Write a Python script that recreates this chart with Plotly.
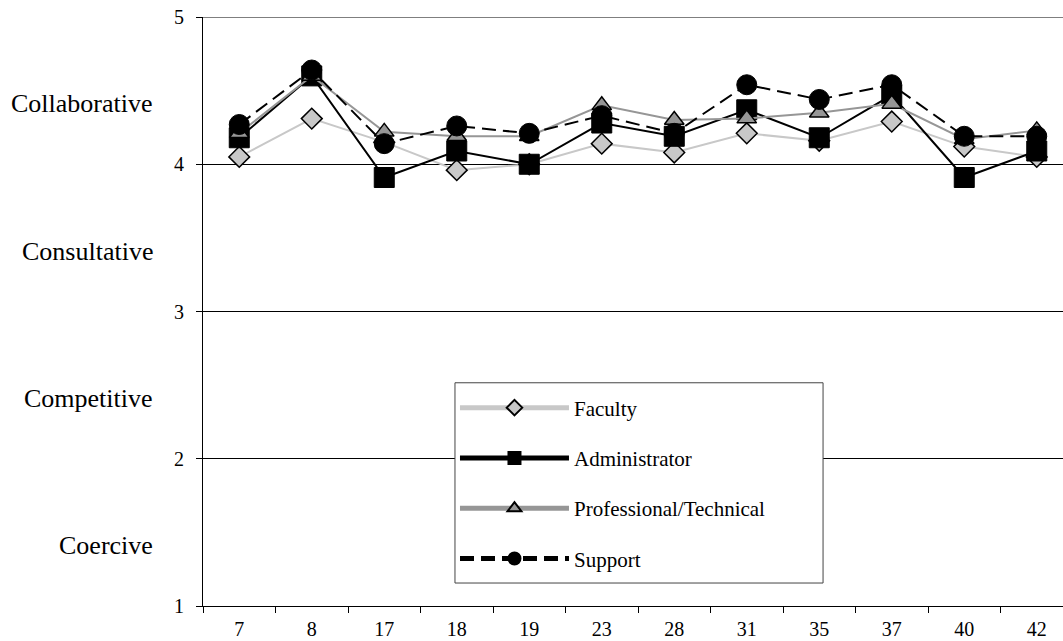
import plotly.graph_objects as go

# Item numbers along the x axis
items = ["7", "8", "17", "18", "19", "23", "28", "31", "35", "37", "40", "42"]

# Mean scores by employee group
faculty = [4.05, 4.31, 4.15, 3.96, 4.00, 4.14, 4.08, 4.21, 4.16, 4.29, 4.12, 4.05]
administrator = [4.18, 4.60, 3.91, 4.09, 4.00, 4.28, 4.19, 4.37, 4.18, 4.47, 3.91, 4.09]
professional = [4.21, 4.60, 4.22, 4.19, 4.19, 4.40, 4.30, 4.31, 4.35, 4.41, 4.17, 4.23]
support = [4.27, 4.64, 4.14, 4.26, 4.21, 4.33, 4.21, 4.54, 4.44, 4.54, 4.19, 4.19]

# Style bands shown beside the y axis
band_labels = ["Collaborative", "Consultative", "Competitive", "Coercive"]
band_positions = [4.41, 3.41, 2.41, 1.41]

y_ticks = [1, 2, 3, 4, 5]

FONT = "Liberation Serif"

series = [
    dict(name="Faculty", y=faculty, line=dict(color="#c8c8c8", width=2),
         marker=dict(symbol="diamond", size=16, color="#c8c8c8",
                     line=dict(color="#000000", width=1.5))),
    dict(name="Administrator", y=administrator, line=dict(color="#000000", width=2),
         marker=dict(symbol="square", size=20, color="#000000",
                     line=dict(color="#000000", width=1))),
    dict(name="Professional/Technical", y=professional, line=dict(color="#969696", width=2),
         marker=dict(symbol="triangle-up", size=17, color="#969696",
                     line=dict(color="#000000", width=1.5))),
    dict(name="Support", y=support, line=dict(color="#000000", width=2, dash="14px,7px"),
         marker=dict(symbol="circle", size=20, color="#000000",
                     line=dict(color="#000000", width=1))),
]

fig = go.Figure()
for i, s in enumerate(series):
    fig.add_trace(go.Scatter(
        x=items, y=s["y"], name=s["name"], mode="lines+markers",
        line=s["line"], marker=s["marker"], legendgroup=f"g{i}",
    ))

for label, pos in zip(band_labels, band_positions):
    fig.add_annotation(
        text=label, x=-0.056, xref="paper", y=pos, yref="y",
        xanchor="right", yanchor="middle", showarrow=False,
        font=dict(family=FONT, size=26, color="#000000"),
    )

# top gridline at the maximum of the scale
fig.add_shape(type="line", xref="paper", x0=0, x1=1, yref="y", y0=5, y1=5,
              line=dict(color="#000000", width=1), layer="below")

# framed panel behind the legend entries
fig.add_shape(type="rect", xref="paper", yref="paper",
              x0=0.293, x1=0.721, y0=0.039, y1=0.379,
              fillcolor="white", line=dict(color="#444444", width=1), layer="above")

fig.update_layout(
    width=1063, height=641,
    margin=dict(l=203, r=0, t=17, b=35, autoexpand=False),
    paper_bgcolor="white", plot_bgcolor="white",
    font=dict(family=FONT, color="#000000"),
    showlegend=True,
    legend=dict(
        x=0.293, y=0.371, xanchor="left", yanchor="top",
        bgcolor="rgba(0,0,0,0)", borderwidth=0,
        font=dict(family=FONT, size=21, color="#000000"),
        traceorder="grouped", tracegroupgap=20,
        itemsizing="constant", itemwidth=109,
    ),
    xaxis=dict(
        type="category", range=[-0.5, 11.362], automargin=False,
        showline=True, linecolor="#000000", linewidth=1,
        ticks="outside", tickson="boundaries", ticklen=6, tickcolor="#000000",
        showgrid=False, tickfont=dict(family=FONT, size=20),
        ticklabelstandoff=5,
    ),
    yaxis=dict(
        range=[1, 5], tickvals=y_ticks, automargin=False,
        showline=True, linecolor="#000000", linewidth=1,
        ticks="outside", ticklen=6, tickcolor="#000000",
        showgrid=True, gridcolor="#000000", gridwidth=1,
        zeroline=False, tickfont=dict(family=FONT, size=20),
        ticklabelstandoff=8,
    ),
)

fig.write_html("out.html")
